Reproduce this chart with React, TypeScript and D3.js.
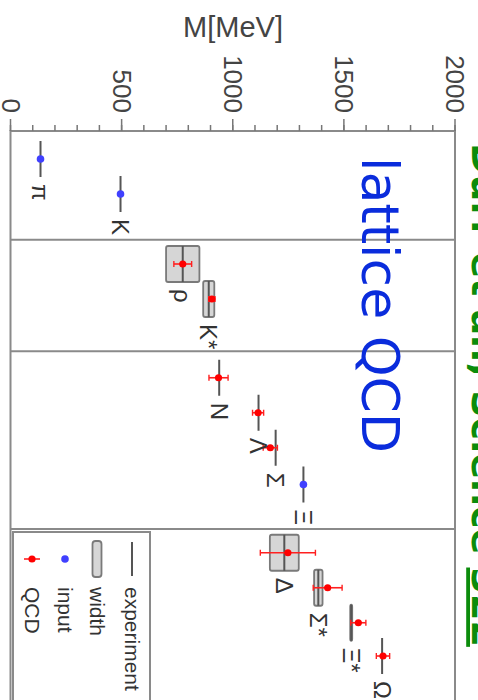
import { useEffect, useRef } from "react";
import * as d3 from "d3";

const particles = ["π", "K", "ρ", "K*", "N", "Λ", "Σ", "Ξ", "Δ", "Σ*", "Ξ*", "Ω"];
const slots = [1, 2, 4, 5, 7.25, 8.25, 9.25, 10.3, 12.25, 13.25, 14.25, 15.2];
const expMass = [135, 495, 775, 892, 939, 1116, 1193, 1318, 1232, 1385, 1533, 1672];
const expWidth = [0, 0, 150, 50, 0, 0, 0, 0, 130, 38, 9, 0];
const isInput = [true, true, false, false, false, false, false, true, false, false, false, false];
const qcdMass = [0, 0, 775, 906, 936, 1114, 1169, 0, 1248, 1427, 1565, 1676];
const qcdErr = [0, 0, 40, 14, 43, 25, 32, 0, 124, 65, 34, 30];
const groupBreaks = [3.31, 6.49, 11.57];
const majorTicks = [0, 500, 1000, 1500, 2000];
const minorTicks = d3.range(0, 2001, 100);
const legendItems = ["experiment", "width", "input", "QCD"];

const W = 478;
const H = 700;
const FONT = "'Liberation Sans', Arial, Helvetica, sans-serif";

export default function App() {
  const ref = useRef<SVGSVGElement>(null);

  useEffect(() => {
    if (!ref.current) return;
    const svg = d3.select(ref.current);
    svg.selectAll("*").remove();

    const x = d3.scaleLinear().domain([0, 2000]).range([10.5, 455]);
    const y = d3.scaleLinear().domain([0, 17]).range([124, 719]);
    const top = y(0.2);
    const bottom = y(16.7);

    // plot frame
    svg.append("rect")
      .attr("x", x(0)).attr("y", top)
      .attr("width", x(2000) - x(0)).attr("height", bottom - top)
      .attr("fill", "white").attr("stroke", "#8a8a8a").attr("stroke-width", 2);

    // group separators
    svg.append("g").selectAll("line").data(groupBreaks).join("line")
      .attr("x1", x(0)).attr("x2", x(2000))
      .attr("y1", (d) => y(d)).attr("y2", (d) => y(d))
      .attr("stroke", "#8a8a8a").attr("stroke-width", 2);

    // mass axis (top)
    const axis = svg.append("g");
    axis.selectAll("line.minor").data(minorTicks).join("line")
      .attr("class", "minor")
      .attr("x1", (d) => x(d)).attr("x2", (d) => x(d))
      .attr("y1", top - 6).attr("y2", top)
      .attr("stroke", "#777").attr("stroke-width", 1.5);
    axis.selectAll("line.major").data(majorTicks).join("line")
      .attr("class", "major")
      .attr("x1", (d) => x(d)).attr("x2", (d) => x(d))
      .attr("y1", top - 12).attr("y2", top)
      .attr("stroke", "#777").attr("stroke-width", 1.5);
    axis.selectAll("text").data(majorTicks).join("text")
      .attr("transform", (d) => `translate(${x(d)},${top - 18}) rotate(90)`)
      .attr("text-anchor", "end")
      .attr("dominant-baseline", "central")
      .attr("font-family", FONT).attr("font-size", 26).attr("fill", "#444")
      .text((d) => d);

    svg.append("text")
      .attr("x", 233).attr("y", 37)
      .attr("text-anchor", "middle")
      .attr("font-family", FONT).attr("font-size", 29).attr("fill", "#444")
      .text("M[MeV]");

    const idx = d3.range(particles.length);

    // resonance widths
    svg.append("g").selectAll("rect").data(idx.filter((i) => expWidth[i] > 0)).join("rect")
      .attr("x", (i) => x(expMass[i] - expWidth[i] / 2))
      .attr("y", (i) => y(slots[i]) - 18)
      .attr("width", (i) => x(expWidth[i]) - x(0))
      .attr("height", 36)
      .attr("rx", 2)
      .attr("fill", "#d6d6d6").attr("stroke", "#7a7a7a").attr("stroke-width", 1.8);

    // experimental values
    svg.append("g").selectAll("line").data(idx).join("line")
      .attr("x1", (i) => x(expMass[i])).attr("x2", (i) => x(expMass[i]))
      .attr("y1", (i) => y(slots[i]) - 18).attr("y2", (i) => y(slots[i]) + 18)
      .attr("stroke", "#555").attr("stroke-width", 2);

    // input points
    svg.append("g").selectAll("circle").data(idx.filter((i) => isInput[i])).join("circle")
      .attr("cx", (i) => x(expMass[i])).attr("cy", (i) => y(slots[i]))
      .attr("r", 3.8).attr("fill", "#4040ff");

    // QCD predictions with errors
    const qcd = svg.append("g").selectAll("g").data(idx.filter((i) => qcdMass[i] > 0)).join("g")
      .attr("transform", (i) => `translate(0,${y(slots[i])})`);
    qcd.append("line")
      .attr("x1", (i) => x(qcdMass[i] - qcdErr[i])).attr("x2", (i) => x(qcdMass[i] + qcdErr[i]))
      .attr("y1", 0).attr("y2", 0)
      .attr("stroke", "#ff2020").attr("stroke-width", 1.6);
    qcd.selectAll("line.cap").data((i) => [qcdMass[i] - qcdErr[i], qcdMass[i] + qcdErr[i]]).join("line")
      .attr("class", "cap")
      .attr("x1", (d) => x(d)).attr("x2", (d) => x(d))
      .attr("y1", -3).attr("y2", 3)
      .attr("stroke", "#ff2020").attr("stroke-width", 1.4);
    qcd.append("circle")
      .attr("cx", (i) => x(qcdMass[i])).attr("cy", 0)
      .attr("r", 3.6).attr("fill", "#ff0000");

    // particle names
    svg.append("g").selectAll("text").data(idx).join("text")
      .attr("transform", (i) => `translate(${x(expMass[i])},${y(slots[i]) + 25}) rotate(90)`)
      .attr("text-anchor", "start")
      .attr("dominant-baseline", "central")
      .attr("font-family", FONT).attr("font-size", 24).attr("fill", "#333")
      .text((i) => particles[i]);

    // legend
    const lg = svg.append("g");
    lg.append("rect")
      .attr("x", 13).attr("y", 532).attr("width", 137).attr("height", 172)
      .attr("fill", "white").attr("stroke", "#8a8a8a").attr("stroke-width", 2);
    const colX = [132, 97, 65, 32];
    const symY = 559;
    lg.append("line")
      .attr("x1", colX[0]).attr("x2", colX[0]).attr("y1", symY - 17).attr("y2", symY + 17)
      .attr("stroke", "#555").attr("stroke-width", 2);
    lg.append("rect")
      .attr("x", colX[1] - 4.5).attr("y", symY - 18).attr("width", 9).attr("height", 36).attr("rx", 3)
      .attr("fill", "#d6d6d6").attr("stroke", "#7a7a7a").attr("stroke-width", 1.8);
    lg.append("circle").attr("cx", colX[2]).attr("cy", symY).attr("r", 3.8).attr("fill", "#4040ff");
    lg.append("line")
      .attr("x1", colX[3] - 8).attr("x2", colX[3] + 8).attr("y1", symY).attr("y2", symY)
      .attr("stroke", "#ff2020").attr("stroke-width", 1.6);
    lg.append("circle").attr("cx", colX[3]).attr("cy", symY).attr("r", 3.6).attr("fill", "#ff0000");
    lg.selectAll("text").data(legendItems).join("text")
      .attr("transform", (_, k) => `translate(${colX[k]},587) rotate(90)`)
      .attr("text-anchor", "start")
      .attr("dominant-baseline", "central")
      .attr("font-family", FONT).attr("font-size", 21).attr("fill", "#333")
      .text((d) => d);

    // hand-written annotation
    svg.append("text")
      .attr("transform", "translate(362,157) rotate(90)")
      .attr("font-family", "'DejaVu Sans', sans-serif")
      .attr("font-size", 52)
      .attr("fill", "#0a2cdc")
      .text("lattice QCD");

    // citation, clipped at the right edge
    const cite = svg.append("text")
      .attr("transform", "translate(472,143) rotate(90)")
      .attr("font-family", "'DejaVu Sans', sans-serif")
      .attr("font-weight", "bold")
      .attr("font-size", 38)
      .attr("fill", "#0b8c0b");
    cite.append("tspan").text("Dürr et al., Science ");
    cite.append("tspan").attr("text-decoration", "underline").text("322");
  }, []);

  return (
    <svg
      ref={ref}
      width={W}
      height={H}
      style={{ position: "absolute", left: 0, top: 0, background: "white" }}
    />
  );
}
